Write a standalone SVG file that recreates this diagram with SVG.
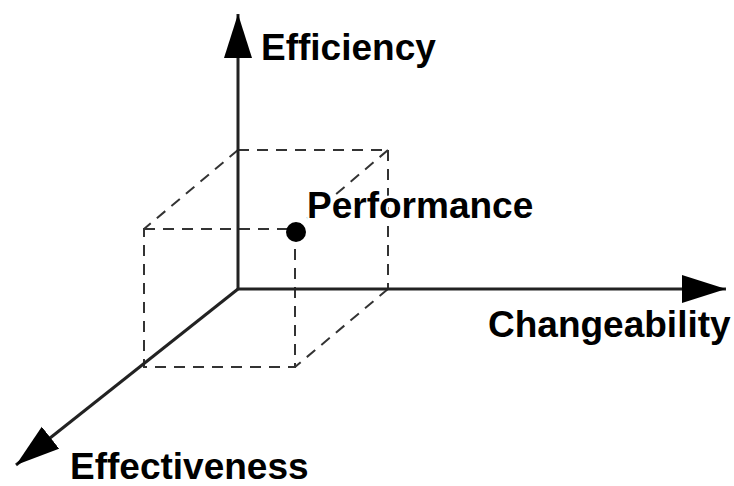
<svg xmlns="http://www.w3.org/2000/svg" width="734" height="486" viewBox="0 0 734 486">
<style>
.ax{stroke:#222;stroke-width:3;fill:none}
.dash{stroke:#333;stroke-width:2;fill:none;stroke-dasharray:11 8}
.lbl{font-family:"Liberation Sans",Arial,sans-serif;font-weight:bold;font-size:37px;fill:#000}
</style>
<defs>
<marker id="ah" markerUnits="userSpaceOnUse" markerWidth="46" markerHeight="30" refX="44" refY="14" orient="auto">
<path d="M0,0 L44,14 L0,28 Z" fill="#000"/>
</marker>
</defs>
<g id="cube">
<line class="dash" x1="238" y1="150" x2="388" y2="150"/>
<line class="dash" x1="388" y1="150" x2="388" y2="289"/>
<line class="dash" x1="238" y1="150" x2="144" y2="229"/>
<line class="dash" x1="388" y1="150" x2="295" y2="229"/>
<line class="dash" x1="388" y1="289" x2="295" y2="367"/>
<rect class="dash" x="144" y="229" width="151" height="138"/>
</g>
<g id="connectors">
<line class="ax" x1="238" y1="289" x2="238" y2="14" marker-end="url(#ah)"/>
<line class="ax" x1="238" y1="289" x2="726" y2="289" marker-end="url(#ah)"/>
<line class="ax" x1="238" y1="289" x2="16" y2="465" marker-end="url(#ah)"/>
</g>
<g id="performance">
<circle cx="296" cy="232" r="10" fill="#000"/>
<text class="lbl" x="307" y="218" stroke="#fff" stroke-width="5" paint-order="stroke">Performance</text>
</g>
<g id="efficiency"><text class="lbl" x="261" y="60">Efficiency</text></g>
<g id="changeability"><text class="lbl" x="488" y="337">Changeability</text></g>
<g id="effectiveness"><text class="lbl" x="70" y="479">Effectiveness</text></g>
</svg>
